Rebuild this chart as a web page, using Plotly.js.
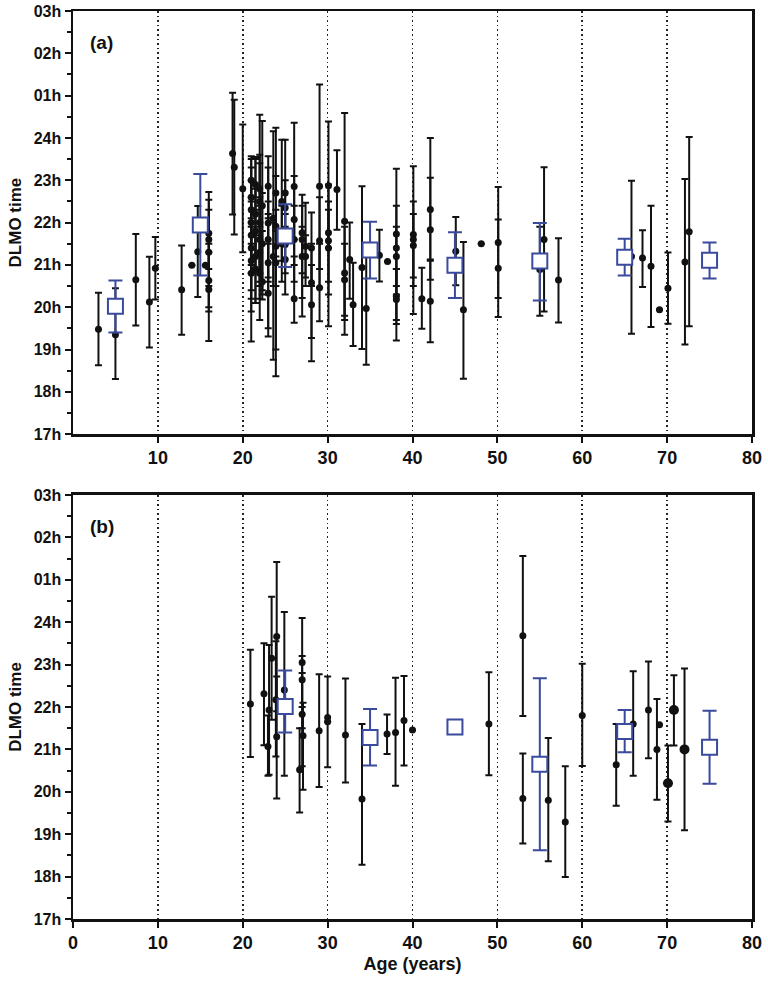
<!DOCTYPE html>
<html><head><meta charset="utf-8">
<script src="https://cdn.plot.ly/plotly-3.0.1.min.js"></script>
<style>html,body{margin:0;padding:0;background:#fff}#plot{width:768px;height:989px}</style>
</head><body><div id="plot"></div>
<script>
// ---------- Panel (a): individual studies ----------
const ageA = [3.0,5.0,7.4,9.0,9.7,12.8,14.0,14.7,15.6,16.0,16.0,16.0,16.0,16.0,
 18.8,19.0,20.0,
 21.0,21.0,21.0,21.0,21.0,21.0,21.0,21.0,
 21.5,21.5,21.5,21.5,21.5,
 22.0,22.0,22.0,22.0,22.0,22.0,
 22.3,22.3,22.3,
 23.0,23.0,23.0,23.0,23.0,
 23.6,23.6,
 23.9,23.9,23.9,23.9,
 24.6,24.6,
 25.0,25.0,25.0,25.0,
 26.06,26.06,26.06,26.06,
 27.0,27.0,27.0,27.4,27.4,
 28.1,28.1,28.1,
 29.05,29.05,29.05,
 30.1,30.1,30.1,30.1,
 31.1,32.0,32.0,32.0,32.6,33.0,34.05,34.55,36.1,37.06,
 38.1,38.1,38.1,38.1,38.1,
 40.1,40.1,40.1,41.1,42.1,42.1,42.1,45.1,46.0,48.1,50.1,50.1,
 55.0,55.5,57.2,65.8,67.1,68.1,69.1,70.1,72.1,72.6];
const dlmoA = [19.48,19.35,20.65,20.12,20.92,20.41,20.99,21.31,20.99,21.75,21.6,21.3,20.63,20.42,
 23.63,23.31,22.8,
 23.0,22.6,22.3,22.0,21.7,21.4,21.1,20.8,
 22.9,22.2,21.8,21.2,20.9,
 22.5,22.0,21.6,21.3,20.8,22.8,
 22.4,21.5,20.6,
 22.86,21.99,21.6,21.05,20.33,
 22.1,21.2,
 22.7,21.91,21.44,21.05,
 22.5,21.5,
 22.7,22.35,21.48,21.13,
 22.85,22.07,21.6,20.2,
 21.76,21.6,21.2,21.44,21.2,
 21.4,20.58,20.06,
 22.86,21.57,20.46,
 22.87,21.76,21.57,21.4,
 22.78,22.03,20.81,20.65,21.13,20.06,20.94,19.97,21.23,21.08,
 21.73,21.4,21.2,20.26,20.18,
 21.72,21.6,21.46,20.2,22.31,21.83,20.14,21.32,19.94,21.5,21.53,20.92,
 20.89,21.6,20.64,21.2,21.16,20.97,19.94,20.45,21.07,21.78];
const hiA = [20.34,20.45,21.73,21.19,21.66,21.46,null,22.39,null,22.72,22.54,22.3,21.5,21.3,
 25.07,24.9,24.32,
 23.57,23.5,23.3,23.0,22.6,22.5,22.0,21.9,
 23.55,23.5,22.8,22.3,21.7,
 24.55,23.4,22.6,22.4,22.0,23.6,
 24.4,22.7,21.8,
 23.57,23.3,22.5,22.2,21.5,
 24.16,22.0,
 24.24,23.1,22.3,21.8,
 23.96,22.4,
 23.96,23.0,22.2,21.9,
 24.36,23.1,22.4,21.2,
 22.66,22.4,21.9,22.47,21.7,
 22.24,21.5,21.0,
 25.26,22.6,21.5,
 24.39,22.9,22.5,22.3,
 23.71,24.59,21.9,21.5,22.0,21.05,22.86,21.2,21.83,null,
 23.27,22.4,21.9,20.9,20.9,
 23.33,22.5,22.2,20.93,24.0,23.06,21.1,22.13,21.54,null,22.84,22.07,
 21.9,23.31,21.63,22.99,21.82,22.4,null,21.29,23.03,24.02];
const loA = [18.63,18.3,19.57,19.05,20.18,19.35,null,20.24,null,20.9,20.5,20.0,19.9,19.2,
 22.19,21.72,21.3,
 22.1,21.5,21.0,20.8,20.4,20.2,19.9,19.19,
 22.2,21.2,20.9,20.1,20.1,
 20.6,20.8,20.5,20.2,19.7,21.9,
 20.4,20.3,20.18,
 22.1,20.6,20.7,19.31,19.5,
 18.76,20.5,
 21.2,18.37,20.5,19.0,
 21.1,20.6,
 21.5,21.6,20.8,20.3,
 21.6,21.0,20.6,19.63,
 20.8,20.22,19.78,20.5,20.7,
 20.5,19.27,18.72,
 20.9,20.46,19.67,
 21.4,20.6,20.3,19.55,
 21.83,19.35,19.7,19.8,20.2,19.08,19.01,18.64,20.61,null,
 19.21,20.3,20.5,19.6,19.7,
 19.84,20.5,20.7,19.49,21.13,20.65,19.17,20.52,18.31,null,20.22,19.77,
 19.8,19.9,19.64,19.37,20.48,19.53,null,19.61,19.12,19.55];
const meanAgeA = [5,15,25,35,45,55,65,75];
const meanA = [20.02,21.94,21.68,21.35,20.99,21.09,21.18,21.11];
const meanHiA = [20.63,23.15,22.43,22.02,21.77,21.99,21.62,21.53];
const meanLoA = [19.40,20.75,20.95,20.68,20.22,20.16,20.75,20.68];

// ---------- Panel (b) ----------
const ageB = [20.9,22.5,22.97,23.1,23.4,24.0,23.9,24.0,24.9,26.7,27.0,27.0,27.0,27.1,29.0,30.0,30.0,32.1,34.05,
 37.0,38.0,39.0,40.0,49.0,53.0,53.0,56.0,58.0,60.0,64.0,66.0,67.8,68.8,69.1,70.1,70.8,72.05];
const dlmoB = [22.07,22.31,21.07,21.93,23.15,23.66,22.17,21.3,22.4,20.52,23.05,22.64,21.83,21.32,21.44,21.75,21.65,21.34,19.83,
 21.36,21.4,21.68,21.46,21.6,23.68,19.84,19.8,19.29,21.8,20.64,21.6,21.93,21.0,21.58,20.2,21.93,21.0];
const hiB = [23.35,23.5,21.8,23.46,24.6,25.42,23.55,22.72,24.24,21.5,24.1,23.2,22.8,22.1,22.77,22.72,null,22.67,21.6,
 21.82,22.69,22.73,null,22.82,25.56,20.9,21.27,20.6,23.02,21.6,22.84,23.07,22.19,null,21.09,22.75,22.91];
const loB = [20.82,21.1,20.38,20.4,21.7,21.9,20.83,19.84,20.38,19.51,22.0,21.5,20.6,20.05,20.11,20.58,null,20.22,18.28,
 20.89,20.14,20.62,null,20.39,21.79,18.78,18.36,17.99,20.61,19.67,20.38,20.79,19.81,null,19.3,21.09,19.09];
const sizeB = [7,7,7,7,7,7,7,7,7,7,7,7,7,7,7,7,7,7,7,7,7,7,7,7,7,7,7,7,7,7,7,7,7,7,10,10,10];
const meanAgeB = [25,35,45,55,65,75];
const meanB = [22.01,21.28,21.53,20.65,21.42,21.05];
const meanHiB = [22.86,21.95,null,22.68,21.93,21.91];
const meanLoB = [21.40,20.62,null,18.62,20.93,20.19];

const yTickVals = [17,18,19,20,21,22,23,24,25,26,27];
const yTickText = ['17h','18h','19h','20h','21h','22h','23h','24h','01h','02h','03h'];
const xTickValsA = [10,20,30,40,50,60,70,80];
const xTickValsB = [0,10,20,30,40,50,60,70,80];

const BLUE = '#3a4a9c';
const up = (hi, v) => hi.map((h, i) => h === null ? null : h - v[i]);
const dn = (lo, v) => lo.map((l, i) => l === null ? null : v[i] - l);

function blackTrace(x, y, hi, lo, xa, ya, size) {
  return {type:'scatter', mode:'markers', x:x, y:y, xaxis:xa, yaxis:ya, showlegend:false,
    marker:{color:'#111', size:size || 7, opacity:1, line:{width:0}},
    error_y:{type:'data', symmetric:false, array:up(hi,y), arrayminus:dn(lo,y), color:'#111', thickness:2, width:3.5}};
}
function blueTrace(x, y, hi, lo, xa, ya) {
  return {type:'scatter', mode:'markers', x:x, y:y, xaxis:xa, yaxis:ya, showlegend:false,
    marker:{symbol:'square', color:'#fff', size:15, opacity:1, line:{color:BLUE, width:2}},
    error_y:{type:'data', symmetric:false, array:up(hi,y), arrayminus:dn(lo,y), color:BLUE, thickness:2, width:7}};
}

const data = [
  blackTrace(ageA, dlmoA, hiA, loA, 'x', 'y'),
  blueTrace(meanAgeA, meanA, meanHiA, meanLoA, 'x', 'y'),
  blackTrace(ageB, dlmoB, hiB, loB, 'x2', 'y2', sizeB),
  blueTrace(meanAgeB, meanB, meanHiB, meanLoB, 'x2', 'y2')
];

const FONT = 'Liberation Sans, Arial, sans-serif';
function xAxis(anchor, vals) {
  return {anchor:anchor, range:[0,80], tickmode:'array', tickvals:vals,
    ticks:'outside', ticklen:6, tickwidth:2, tickcolor:'#111',
    showline:true, linecolor:'#111', linewidth:2.5, mirror:true,
    showgrid:true, gridcolor:'#222', gridwidth:1.6, griddash:'1.6px,3px',
    zeroline:false, tickfont:{family:FONT, size:18, weight:700, color:'#111'}};
}
function yAxis(anchor, domain) {
  return {anchor:anchor, domain:domain, range:[17,27], tickmode:'array', tickvals:yTickVals, ticktext:yTickText,
    ticks:'outside', ticklen:6, tickwidth:2, tickcolor:'#111',
    minor:{tickmode:'linear', tick0:17, dtick:0.5, ticks:'outside', ticklen:4, tickwidth:2, tickcolor:'#111', showgrid:false},
    showline:true, linecolor:'#111', linewidth:2.5, mirror:true, showgrid:false, zeroline:false,
    tickfont:{family:FONT, size:16, weight:700, color:'#111'},
    title:{text:'DLMO time', font:{family:FONT, size:17, weight:700, color:'#111'}, standoff:8}};
}

const layout = {
  width:768, height:989, margin:{l:73, r:16, t:11, b:70},
  paper_bgcolor:'#fff', plot_bgcolor:'#fff', showlegend:false,
  font:{family:FONT, color:'#111'},
  xaxis: xAxis('y', xTickValsA),
  yaxis: yAxis('x', [0.534, 1]),
  xaxis2: Object.assign(xAxis('y2', xTickValsB), {title:{text:'Age (years)', font:{family:FONT, size:18, weight:700, color:'#111'}, standoff:6}}),
  yaxis2: yAxis('x2', [0, 0.467]),
  annotations:[
    {text:'(a)', xref:'x domain', yref:'y domain', x:0.022, y:0.955, showarrow:false, xanchor:'left', yanchor:'top', font:{family:FONT, size:19, weight:700, color:'#111'}},
    {text:'(b)', xref:'x2 domain', yref:'y2 domain', x:0.022, y:0.955, showarrow:false, xanchor:'left', yanchor:'top', font:{family:FONT, size:19, weight:700, color:'#111'}}
  ]
};
Plotly.newPlot('plot', data, layout, {displayModeBar:false, staticPlot:true});
</script></body></html>
